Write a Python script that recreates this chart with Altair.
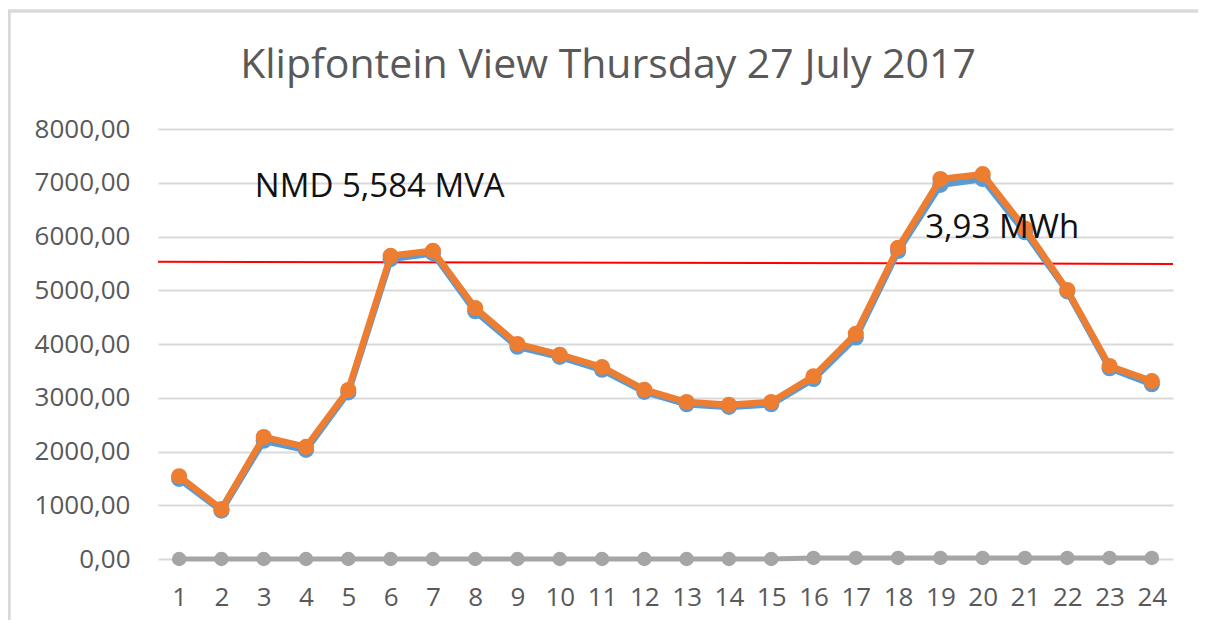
import altair as alt
import pandas as pd

hours = list(range(1, 25))
orange_vals = [1540, 930, 2270, 2085, 3145, 5640, 5735, 4670, 4000, 3800, 3570, 3150,
               2920, 2870, 2920, 3400, 4190, 5790, 7070, 7160, 6150, 5005, 3590, 3310]
blue_vals = [1490, 900, 2200, 2030, 3100, 5580, 5690, 4610, 3950, 3760, 3520, 3110,
             2880, 2830, 2880, 3350, 4120, 5730, 6960, 7070, 6080, 4980, 3550, 3250]
gray_vals = [0, 0, 0, 0, 0, 0, 0, 0, 0, 0, 0, 0,
             0, 0, 0, 20, 20, 20, 20, 20, 20, 20, 20, 20]

nmd_x = [0.5, 24.5]
nmd_y = [5530, 5490]

ann_text = ["NMD 5,584 MVA", "3,93 MWh"]
ann_x = [2.79, 18.64]
ann_y = [6920, 6160]

series_names = ["gray", "blue", "orange"]
series_colors = ["#A5A5A5", "#5B9BD5", "#ED7D31"]

rows = []
for name, vals in zip(series_names, [gray_vals, blue_vals, orange_vals]):
    for h, v in zip(hours, vals):
        rows.append({"hour": h, "value": v, "series": name})
df = pd.DataFrame(rows)
df_red = pd.DataFrame({"hour": nmd_x, "value": nmd_y})
df_ann = pd.DataFrame({"hour": ann_x, "value": ann_y, "text": ann_text})

FONT = "Open Sans"
xscale = alt.Scale(domain=[0.5, 24.5], nice=False, zero=False)
yscale = alt.Scale(domain=[0, 8000], nice=False)

xaxis = alt.Axis(values=hours, labelExpr="format(datum.value, 'd')", grid=False, domain=False,
                 ticks=False, labelPadding=25, labelFontSize=26, labelColor="#595959",
                 labelFont=FONT, title=None, labelAngle=0)
yaxis = alt.Axis(values=list(range(0, 8001, 1000)),
                 labelExpr="replace(format(datum.value, '.2f'), '.', ',')",
                 grid=True, gridColor="#D9D9D9", gridWidth=2, domain=False, ticks=False,
                 labelPadding=28, labelFontSize=26, labelColor="#595959", labelFont=FONT,
                 title=None)

base_x = alt.X("hour:Q", scale=xscale, axis=xaxis)
base_y = alt.Y("value:Q", scale=yscale, axis=yaxis)

# chart-area frame (decoration: top and left edges of the Excel chart box)
frame_left = alt.Chart(df_red).mark_rule(color="#D9D9D9", strokeWidth=3).encode(
    x=alt.value(-149), y=alt.value(-118), y2=alt.value(500)
)
frame_top = alt.Chart(df_red).mark_rule(color="#D9D9D9", strokeWidth=3).encode(
    x=alt.value(-150), x2=alt.value(1050), y=alt.value(-118)
)

red = alt.Chart(df_red).mark_line(color="#FF0000", strokeWidth=2).encode(
    x=alt.X("hour:Q", scale=xscale), y=alt.Y("value:Q", scale=yscale)
)

color = alt.Color("series:N", scale=alt.Scale(domain=series_names, range=series_colors), legend=None)

layers = [frame_left, frame_top, red]
for name, sw, sz in [("gray", 5, 210), ("blue", 6.5, 260), ("orange", 6.5, 260)]:
    sub = df[df.series == name]
    layers.append(
        alt.Chart(sub).mark_line(strokeWidth=sw, point=alt.OverlayMarkDef(size=sz, filled=True, opacity=1)).encode(
            x=base_x, y=base_y, color=color
        )
    )

text = alt.Chart(df_ann).mark_text(align="left", baseline="middle", fontSize=33, font=FONT,
                                   color="#111111").encode(
    x=alt.X("hour:Q", scale=xscale), y=alt.Y("value:Q", scale=yscale), text="text:N"
)
layers.append(text)

chart = alt.layer(*layers).properties(
    width=1015, height=430,
    background="white",
    title=alt.TitleParams("Klipfontein View Thursday 27 July 2017", fontSize=41, font=FONT,
                          fontWeight="normal", color="#595959", anchor="middle", frame="bounds",
                          baseline="alphabetic", offset=-109),
    autosize=alt.AutoSizeParams(type="none"),
    padding={"left": 150, "top": 121, "right": 25, "bottom": 61},
).configure_view(stroke=None)

chart.save("out.html", embed_options={"renderer": "svg", "actions": False})
